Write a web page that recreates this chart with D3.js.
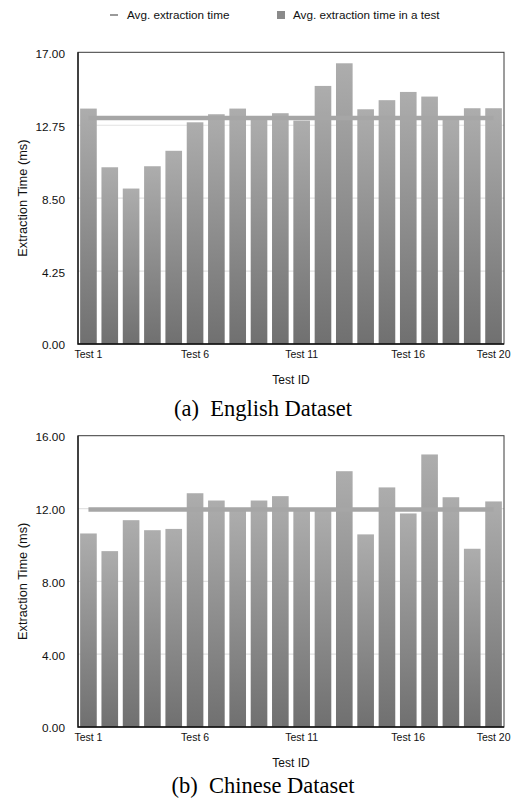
<!DOCTYPE html>
<html>
<head>
<meta charset="utf-8">
<script src="https://cdn.jsdelivr.net/npm/d3@7"></script>
<style>
  html, body { margin: 0; padding: 0; background: #fff; }
  svg { display: block; }
  .sans { font-family: "Liberation Sans", Arial, Helvetica, sans-serif; fill: #111; }
  .serif { font-family: "Liberation Serif", "Times New Roman", serif; fill: #000; }
</style>
</head>
<body>
<svg id="chart" width="516" height="805"></svg>
<script>
// Test identifiers shared by both panels
const tests = d3.range(1, 21).map(i => "Test " + i);
const xTickLabels = ["Test 1", "Test 6", "Test 11", "Test 16", "Test 20"];

// English dataset: average extraction time per test (ms)
const englishTimes = [13.72, 10.30, 9.06, 10.36, 11.26, 12.92, 13.39, 13.72, 13.20, 13.45,
                      13.02, 15.04, 16.36, 13.68, 14.21, 14.69, 14.42, 13.20, 13.74, 13.74];
const englishTicks = [0, 4.25, 8.5, 12.75, 17];

// Chinese dataset: average extraction time per test (ms)
const chineseTimes = [10.63, 9.66, 11.36, 10.81, 10.88, 12.84, 12.44, 11.90, 12.44, 12.68,
                      11.95, 11.95, 14.05, 10.58, 13.16, 11.73, 14.97, 12.62, 9.79, 12.39];
const chineseTicks = [0, 4, 8, 12, 16];

const legendLabels = ["Avg. extraction time", "Avg. extraction time in a test"];

const svg = d3.select("#chart");

// vertical gradient used by every bar
const defs = svg.append("defs");
const grad = defs.append("linearGradient")
  .attr("id", "barGrad").attr("x1", 0).attr("y1", 0).attr("x2", 0).attr("y2", 1);
grad.append("stop").attr("offset", "0%").attr("stop-color", "#adadad");
grad.append("stop").attr("offset", "100%").attr("stop-color", "#707070");

// legend
const legend = svg.append("g");
legend.append("line").attr("x1", 110).attr("x2", 118).attr("y1", 15).attr("y2", 15)
  .attr("stroke", "#9a9a9a").attr("stroke-width", 2);
legend.append("text").attr("class", "sans").attr("x", 127).attr("y", 19)
  .attr("font-size", 11.7).text(legendLabels[0]);
legend.append("rect").attr("x", 277).attr("y", 11).attr("width", 8).attr("height", 8)
  .attr("fill", "#8a8a8a");
legend.append("text").attr("class", "sans").attr("x", 293).attr("y", 19)
  .attr("font-size", 11.7).text(legendLabels[1]);

function panel(values, ticks, top, bottom, caption, captionY) {
  const left = 78, right = 504;
  const g = svg.append("g");

  const x = d3.scaleBand().domain(tests).range([left, right])
    .paddingInner(0.22).paddingOuter(0.1);
  const y = d3.scaleLinear().domain([0, ticks[ticks.length - 1]]).range([bottom, top]);

  // horizontal grid
  g.append("g").selectAll("line").data(ticks.slice(1, -1)).join("line")
    .attr("x1", left).attr("x2", right)
    .attr("y1", d => y(d)).attr("y2", d => y(d))
    .attr("stroke", "#e2e2e2").attr("stroke-width", 1.2);

  // bars
  g.append("g").selectAll("rect").data(values).join("rect")
    .attr("x", (d, i) => x(tests[i]))
    .attr("width", x.bandwidth())
    .attr("y", d => y(d))
    .attr("height", d => bottom - y(d))
    .attr("fill", "url(#barGrad)");

  // overall average line
  const avg = d3.mean(values);
  g.append("line")
    .attr("x1", x(tests[0]) + x.bandwidth() / 2)
    .attr("x2", x(tests[tests.length - 1]) + x.bandwidth() / 2)
    .attr("y1", y(avg)).attr("y2", y(avg))
    .attr("stroke", "#a6a6a6").attr("stroke-width", 4.5);

  // frame
  g.append("rect").attr("x", left).attr("y", top)
    .attr("width", right - left).attr("height", bottom - top)
    .attr("fill", "none").attr("stroke", "#3a3a3a").attr("stroke-width", 1);
  g.append("path")
    .attr("d", `M${left},${top}V${bottom}H${right}`)
    .attr("fill", "none").attr("stroke", "#111").attr("stroke-width", 1.3);

  // y axis labels
  const yAxis = d3.axisLeft(y).tickValues(ticks).tickFormat(d3.format(".2f")).tickSize(0).tickPadding(13);
  const ya = g.append("g").attr("transform", `translate(${left},0)`).call(yAxis);
  ya.select(".domain").remove();
  ya.selectAll("text").attr("class", "sans").attr("font-size", 11.8)
    .attr("font-family", null).attr("fill", "#111").attr("dy", "0.42em");

  // x axis labels
  const xAxis = d3.axisBottom(x).tickValues(xTickLabels).tickSize(0).tickPadding(7);
  const xa = g.append("g").attr("transform", `translate(0,${bottom})`).call(xAxis);
  xa.select(".domain").remove();
  xa.selectAll("text").attr("class", "sans").attr("font-size", 10.5)
    .attr("font-family", null).attr("fill", "#111");

  // axis titles
  g.append("text").attr("class", "sans").attr("font-size", 12.8)
    .attr("text-anchor", "middle")
    .attr("transform", `translate(26.5,${(top + bottom) / 2}) rotate(-90)`)
    .text("Extraction Time (ms)");
  g.append("text").attr("class", "sans").attr("font-size", 12)
    .attr("text-anchor", "middle")
    .attr("x", (left + right) / 2).attr("y", bottom + 39.5)
    .text("Test ID");

  // sub-figure caption
  g.append("text").attr("class", "serif").attr("font-size", 22.5)
    .attr("text-anchor", "middle").attr("xml:space", "preserve")
    .style("white-space", "pre")
    .attr("x", 263).attr("y", captionY)
    .text(caption);
}

panel(englishTimes, englishTicks, 52.3, 344, "(a)  English Dataset", 415.5);
panel(chineseTimes, chineseTicks, 435.7, 727, "(b)  Chinese Dataset", 792.5);
</script>
</body>
</html>
